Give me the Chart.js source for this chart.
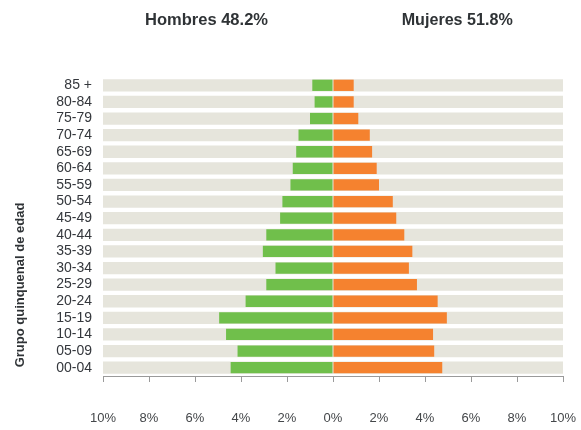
<!DOCTYPE html>
<html lang="es">
<head>
<meta charset="utf-8">
<script src="https://cdn.jsdelivr.net/npm/chart.js@4"></script>
<style>
  html, body { margin: 0; padding: 0; background: #fff; }
  #wrap { position: relative; width: 581px; height: 430px; }
</style>
</head>
<body>
<div id="wrap"><canvas id="pyramid" width="581" height="430"></canvas></div>
<script>
const ageGroups = ["85 +", "80-84", "75-79", "70-74", "65-69", "60-64", "55-59", "50-54", "45-49",
  "40-44", "35-39", "30-34", "25-29", "20-24", "15-19", "10-14", "05-09", "00-04"];
const maleValues = [0.9, 0.8, 1.0, 1.5, 1.6, 1.75, 1.85, 2.2, 2.3, 2.9, 3.05, 2.5, 2.9, 3.8, 4.95, 4.65, 4.15, 4.45];
const femaleValues = [0.9, 0.9, 1.1, 1.6, 1.7, 1.9, 2.0, 2.6, 2.75, 3.1, 3.45, 3.3, 3.65, 4.55, 4.95, 4.35, 4.4, 4.75];
const axisLimit = 10;
const headings = { male: "Hombres 48.2%", female: "Mujeres 51.8%" };
const yTitle = "Grupo quinquenal de edad";

// headings and the offset y title are drawn on the canvas after the chart
const labelsPlugin = {
  id: "pyramidLabels",
  afterDraw(chart) {
    const { ctx, scales: { x } } = chart;
    ctx.save();
    ctx.fillStyle = "#2f3336";
    ctx.textBaseline = "middle";
    ctx.textAlign = "center";
    ctx.font = "bold 17px 'Liberation Sans Narrow', 'Liberation Sans', Arial, sans-serif";
    ctx.fillText(headings.male, x.getPixelForValue(-5.5), 20, 123);
    ctx.fillText(headings.female, x.getPixelForValue(5.4), 20, 111);

    ctx.translate(20, 285);
    ctx.rotate(-Math.PI / 2);
    ctx.font = "bold 13px 'Liberation Sans', Arial, sans-serif";
    ctx.fillText(yTitle, 0, 0);
    ctx.restore();
  },
};

new Chart(document.getElementById("pyramid"), {
  type: "bar",
  data: {
    labels: ageGroups,
    datasets: [
      { label: "Hombres", data: maleValues.map((v) => -v), backgroundColor: "#70bf4b", barPercentage: 0.68, order: 1 },
      { label: "Mujeres", data: femaleValues, backgroundColor: "#f5822f", barPercentage: 0.68, order: 1 },
      { label: "fondo", data: ageGroups.map(() => [-axisLimit, axisLimit]), backgroundColor: "#e6e5dc", barPercentage: 0.74, order: 2 },
    ],
  },
  options: {
    indexAxis: "y",
    responsive: false,
    animation: false,
    layout: { padding: { top: 77, right: 18, left: 0, bottom: 0 } },
    datasets: { bar: { grouped: false, categoryPercentage: 1, borderWidth: 0 } },
    plugins: { legend: { display: false }, tooltip: { enabled: false } },
    scales: {
      x: {
        min: -axisLimit,
        max: axisLimit,
        afterFit: (scale) => {
          scale.height = 54;
          scale.paddingLeft = 0;
          scale.paddingRight = 0;
        },
        ticks: {
          stepSize: 2,
          padding: 29,
          color: "#44474a",
          font: { family: "'Liberation Sans', Arial, sans-serif", size: 13 },
          callback: (value) => Math.abs(value) + "%",
        },
        grid: { drawOnChartArea: false, drawTicks: true, tickLength: 6, color: "#9a9a9a" },
        border: { display: true, color: "#9a9a9a" },
      },
      y: {
        afterFit: (scale) => { scale.width = 103; },
        ticks: {
          autoSkip: false,
          padding: 11,
          color: "#34373c",
          font: { family: "'Liberation Sans', Arial, sans-serif", size: 14 },
        },
        grid: { display: false, drawTicks: false },
        border: { display: false },
      },
    },
  },
  plugins: [labelsPlugin],
});
</script>
</body>
</html>
